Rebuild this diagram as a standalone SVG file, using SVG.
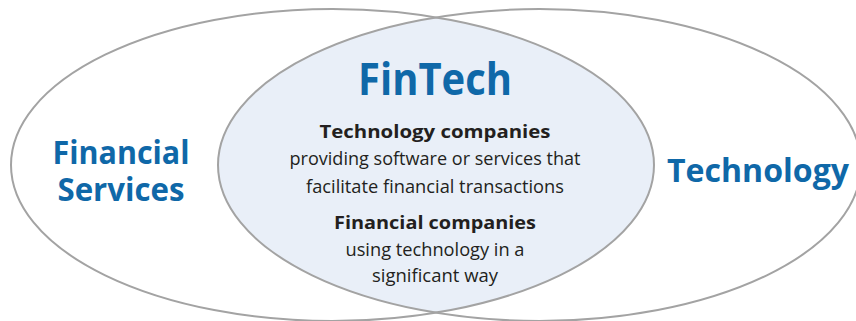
<svg xmlns="http://www.w3.org/2000/svg" width="856" height="321" viewBox="0 0 856 321">
  <style>
    .ring { fill: none; stroke: #a3a3a3; stroke-width: 2; }
    .big { font-family: "Open Sans", "Liberation Sans", sans-serif; font-weight: 700; fill: #0f68a8; text-anchor: middle; }
    .head { font-family: "Open Sans", "Liberation Sans", sans-serif; font-weight: 700; fill: #231f20; font-size: 18.5px; text-anchor: middle; }
    .body { font-family: "Open Sans", "Liberation Sans", sans-serif; font-weight: 400; fill: #231f20; font-size: 18px; text-anchor: middle; }
  </style>
  <defs>
    <clipPath id="clipLeft">
      <ellipse cx="332.5" cy="165" rx="321.5" ry="156"/>
    </clipPath>
  </defs>
  <rect width="856" height="321" fill="#ffffff"/>
  <g id="fintech-fill">
    <ellipse cx="539.5" cy="165" rx="321.5" ry="156" fill="#e9eff8" clip-path="url(#clipLeft)"/>
  </g>
  <g id="financial-services">
    <ellipse class="ring" cx="332.5" cy="165" rx="321.5" ry="156"/>
    <text class="big" font-size="32" x="121" y="164" textLength="137" lengthAdjust="spacingAndGlyphs">Financial</text>
    <text class="big" font-size="32" x="121" y="201" textLength="127" lengthAdjust="spacingAndGlyphs">Services</text>
  </g>
  <g id="technology">
    <ellipse class="ring" cx="539.5" cy="165" rx="321.5" ry="156"/>
    <text class="big" font-size="32" x="758" y="182" textLength="182" lengthAdjust="spacingAndGlyphs">Technology</text>
  </g>
  <g id="fintech">
    <text class="big" font-size="44" x="435" y="95" textLength="154" lengthAdjust="spacingAndGlyphs">FinTech</text>
    <text class="head" x="435" y="138" textLength="231" lengthAdjust="spacingAndGlyphs">Technology companies</text>
    <text class="body" x="435" y="165" textLength="291" lengthAdjust="spacingAndGlyphs">providing software or services that</text>
    <text class="body" x="435" y="193" textLength="258" lengthAdjust="spacingAndGlyphs">facilitate financial transactions</text>
    <text class="head" x="435" y="229" textLength="202" lengthAdjust="spacingAndGlyphs">Financial companies</text>
    <text class="body" x="435" y="256" textLength="179" lengthAdjust="spacingAndGlyphs">using technology in a</text>
    <text class="body" x="435" y="282" textLength="126" lengthAdjust="spacingAndGlyphs">significant way</text>
  </g>
  <g id="connectors"></g>
</svg>
